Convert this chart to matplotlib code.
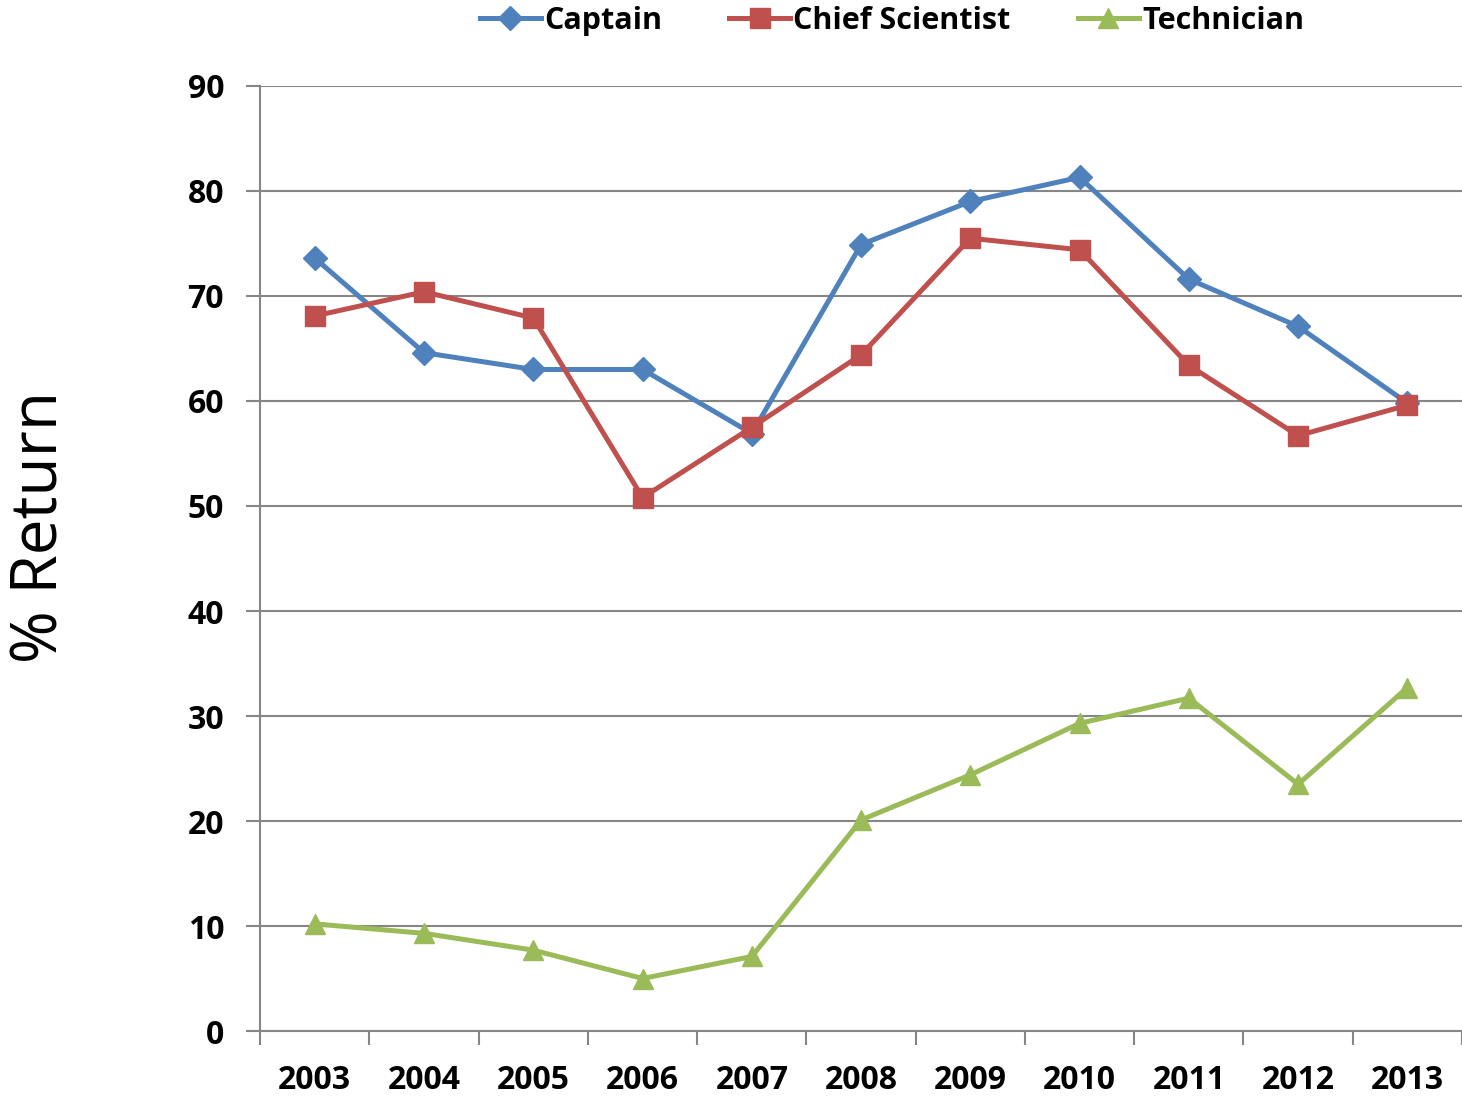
import numpy as np
import matplotlib.pyplot as plt

# valores
anios = ["2003", "2004", "2005", "2006", "2007", "2008", "2009", "2010", "2011", "2012", "2013"]
captain = [73.6, 64.6, 63.0, 63.0, 56.9, 74.9, 79.0, 81.3, 71.6, 67.1, 59.8]
chief_scientist = [68.1, 70.4, 67.9, 50.8, 57.5, 64.4, 75.5, 74.4, 63.4, 56.7, 59.6]
technician = [10.2, 9.3, 7.7, 5.0, 7.1, 20.1, 24.4, 29.3, 31.7, 23.5, 32.7]

plt.rcParams['font.family'] = ['Open Sans', 'DejaVu Sans']

fig = plt.figure(figsize=(14.62, 10.98), dpi=100)
ax = fig.add_axes([0.178, 0.061, 0.822, 0.8607])

x = np.arange(len(anios))
ax.plot(x, captain, color='#4F81BD', lw=3.6, marker='D', ms=12, label='Captain')
ax.plot(x, chief_scientist, color='#C0504D', lw=3.6, marker='s', ms=14, label='Chief Scientist')
ax.plot(x, technician, color='#9BBB59', lw=3.6, marker='^', ms=14, label='Technician')

ax.set_xlim(-0.5, len(anios) - 0.5)
ax.set_ylim(0, 90)
ax.set_yticks(range(0, 91, 10))
ax.set_xticks(x)
ax.set_xticklabels(anios)
ax.set_xticks(np.arange(-0.5, len(anios), 1), minor=True)

ax.grid(True, axis='y', color='#868686', lw=1.5)
ax.set_axisbelow(True)
for lado in ['top', 'right']:
    ax.spines[lado].set_visible(False)
for lado in ['left', 'bottom']:
    ax.spines[lado].set_color('#868686')
    ax.spines[lado].set_linewidth(1.5)

ax.tick_params(axis='x', which='major', length=0, pad=24, labelsize=23)
ax.tick_params(axis='x', which='minor', length=10, width=1.5, color='#868686', direction='out')
ax.tick_params(axis='y', length=10, width=1.5, color='#868686', labelsize=23, pad=16)
for lbl in ax.get_xticklabels() + ax.get_yticklabels():
    lbl.set_fontweight('bold')

fig.text(0.028, 0.52, "% Return", rotation=90, ha='center', va='center', fontsize=46)

fig.legend(loc='center', bbox_to_anchor=(0.61, 0.981), ncol=3, frameon=False,
           prop={'weight': 'bold', 'size': 22}, handlelength=2.0, handletextpad=0.1,
           columnspacing=2.2)

fig.savefig("out.png", dpi=100)
